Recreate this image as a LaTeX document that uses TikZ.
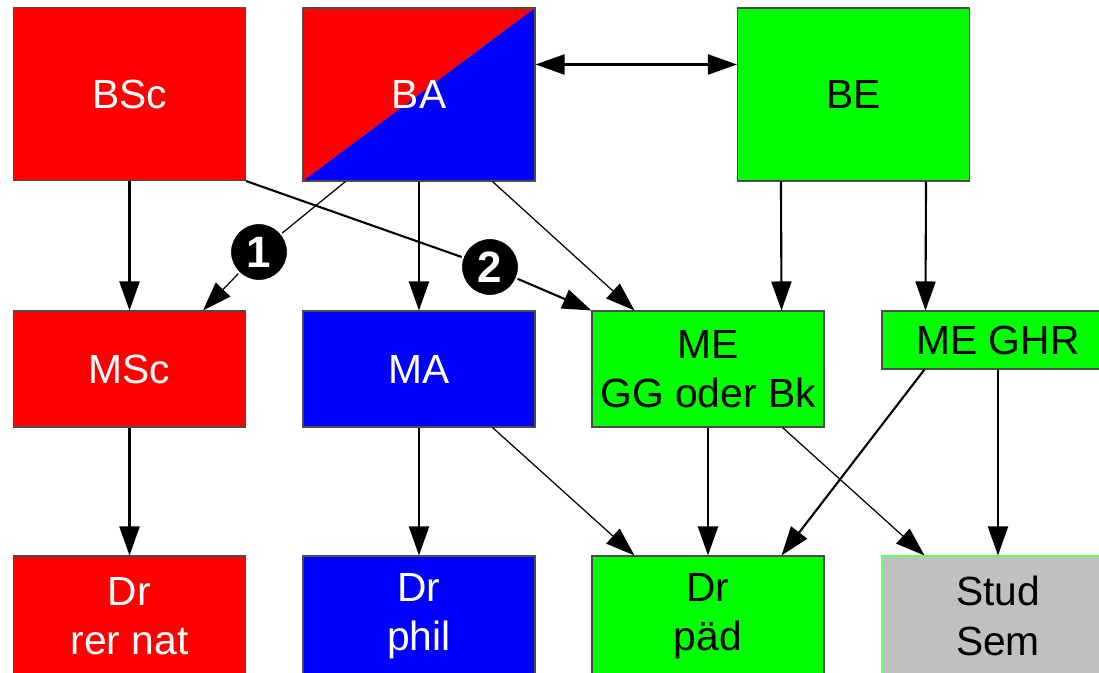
\documentclass[tikz,border=0pt]{standalone}
\usepackage{fontspec}
\setmainfont{Liberation Sans}
\usetikzlibrary{arrows.meta}
\definecolor{semgray}{RGB}{192,192,192}
\begin{document}
\begin{tikzpicture}[
		>={Triangle[length=0.29cm,width=0.2cm]},
		box/.style={rectangle,draw=black!70,line width=0.3pt,minimum width=2.32cm,minimum height=1.16cm,inner sep=0pt,align=center,font=\fontsize{11.6}{14}\selectfont},
		tall/.style={minimum height=1.73cm},
		low/.style={minimum height=1.2cm},
		split/.style={path picture={
			\fill [red] (path picture bounding box.south west) -- (path picture bounding box.north west) -- (path picture bounding box.north east) -- cycle;
			\fill [blue] (path picture bounding box.south west) -- (path picture bounding box.south east) -- (path picture bounding box.north east) -- cycle;}},
		num/.style={circle,fill=black,draw=white,line width=0.6pt,minimum size=0.58cm,inner sep=0pt,text=white,font=\bfseries\fontsize{12.5}{13}\selectfont},
		link/.style={line width=0.6pt},
		thinlink/.style={line width=0.35pt}]
		\useasboundingbox (0,0) rectangle (10.99,-6.73);
		% bachelor
			\node [box,tall,fill=red,text=white] (BSc) at (1.295,-0.94) {BSc};
			\node [box,tall,split,text=white] (BA) at (4.19,-0.945) {BA};
			\node [box,tall,fill=green] (BE) at (8.535,-0.945) {BE};
		% master
			\node [box,fill=red,text=white] (MSc) at (1.295,-3.69) {MSc};
			\node [box,fill=blue,text=white] (MA) at (4.19,-3.69) {MA};
			\node [box,fill=green] (MEGG) at (7.08,-3.69) {ME\\GG oder Bk};
			\node [box,fill=green,minimum height=0.58cm] (MEGHR) at (9.98,-3.40) {ME GHR};
		% doctorate
			\node [box,low,fill=red,text=white] (DrNat) at (1.295,-6.16) {Dr\\rer nat};
			\node [box,low,fill=blue,text=white] (DrPhil) at (4.19,-6.16) {Dr\\phil};
			\node [box,low,fill=green] (DrPaed) at (7.08,-6.16) {Dr\\päd};
			\node [box,low,fill=semgray,draw=green!60] (StudSem) at (9.98,-6.16) {Stud\\Sem};
		% markers
			\node [num] (one) at (2.59,-2.52) {1};
			\node [num] (two) at (4.90,-2.67) {2};
		% bachelor to master
			\draw [link,<->] ([yshift=0.3cm]BA.east) -- ([yshift=0.3cm]BE.west);
			\draw [link,->] (BSc) -- (MSc);
			\draw [thinlink] ([xshift=0.43cm]BA.south west) -- (one);
			\draw [thinlink,->] (one) -- ([xshift=-0.43cm]MSc.north east);
			\draw [link] (BSc.south east) -- (two);
			\draw [link,->] (two) -- (MEGG.north west);
			\draw [link,->] (BA) -- (MA);
			\draw [thinlink,->] ([xshift=-0.43cm]BA.south east) -- ([xshift=0.43cm]MEGG.north west);
			\draw [link,->] ([xshift=0.44cm]BE.south west) -- ([xshift=-0.43cm]MEGG.north east);
			\draw [link,->] ([xshift=-0.44cm]BE.south east) -- ([xshift=0.44cm]MEGHR.north west);
		% master to doctorate
			\draw [link,->] (MSc) -- (DrNat);
			\draw [link,->] (MA) -- (DrPhil);
			\draw [thinlink,->] ([xshift=-0.43cm]MA.south east) -- ([xshift=0.43cm]DrPaed.north west);
			\draw [link,->] (MEGG) -- (DrPaed);
			\draw [thinlink,->] ([xshift=-0.42cm]MEGG.south east) -- ([xshift=0.43cm]StudSem.north west);
			\draw [link,->] ([xshift=0.43cm]MEGHR.south west) -- ([xshift=-0.43cm]DrPaed.north east);
			\draw [link,->] (MEGHR) -- (StudSem);
	\end{tikzpicture}
\end{document}
